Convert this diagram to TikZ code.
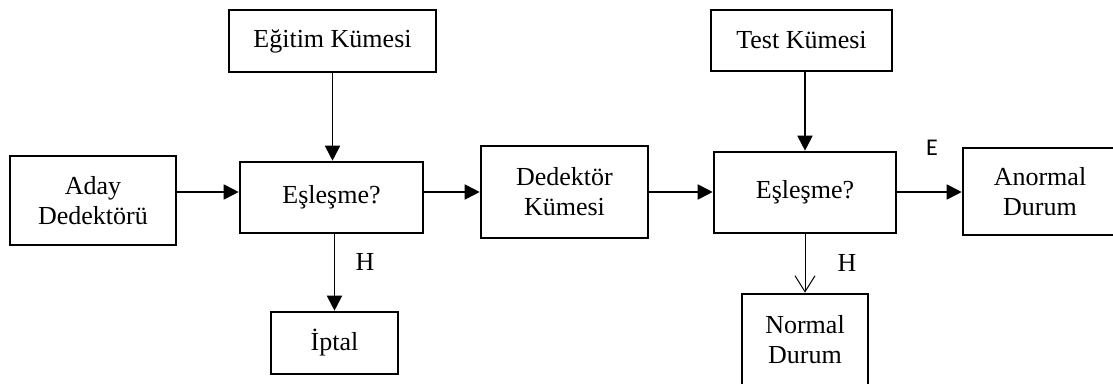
\documentclass[tikz,border=0pt]{standalone}
\usepackage{fontspec}
\setmainfont{Liberation Serif}
\newfontfamily\labelsans{Carlito}
\usetikzlibrary{arrows.meta}
\begin{document}
\begin{tikzpicture}[x=1pt,y=-1pt,
  box/.style={draw,line width=2.6pt,align=center,inner sep=0pt,
    font=\fontsize{26}{30}\selectfont},
  arr/.style={line width=1.8pt,-{Triangle[length=15pt,width=15pt]}},
  thinarr/.style={line width=1pt,-{Straight Barb[length=16pt,width=20pt,line width=1pt]}},
  lbl/.style={font=\fontsize{26}{30}\selectfont},
  elbl/.style={font=\labelsans\fontsize{24}{28}\selectfont}]
\useasboundingbox (0,0) rectangle (1113,383);
\fill[white] (0,0) rectangle (1113,383);
\clip (0,0) rectangle (1113,383);
\node[box,minimum width=207pt,minimum height=62pt] (egitim) at (332.5,41) {Eğitim Kümesi};
\node[box,minimum width=166pt,minimum height=89pt] (aday) at (93,200.5) {Aday\\Dedektörü};
\node[box,minimum width=183pt,minimum height=71pt] (es1) at (331.5,197.5) {Eşleşme?};
\node[box,minimum width=127pt,minimum height=62pt] (iptal) at (334.5,343) {İptal};
\node[box,minimum width=167pt,minimum height=92pt] (ded) at (564.5,192) {Dedektör\\Kümesi};
\node[box,minimum width=181pt,minimum height=61pt] (test) at (801.5,40.5) {Test Kümesi};
\node[box,minimum width=182pt,minimum height=81pt] (es2) at (805,192.5) {Eşleşme?};
\node[box,minimum width=154pt,minimum height=87pt] (anormal) at (1040,191.5) {Anormal\\Durum};
\node[box,minimum width=126pt,minimum height=92pt] (normal) at (805,340) {Normal\\Durum};
\coordinate (r1) at (0,192);
\draw[arr] (egitim.south) -- (egitim.south |- es1.north);
\draw[arr] (aday.east |- r1) -- (es1.west |- r1);
\draw[arr] (es1.east |- r1) -- (ded.west |- r1);
\draw[arr] (iptal.north |- es1.south) -- (iptal.north);
\draw[arr] (ded.east |- r1) -- (es2.west |- r1);
\draw[arr] (es2.north |- test.south) -- (es2.north);
\draw[arr] (es2.east |- r1) -- (anormal.west |- r1);
\draw[thinarr] (normal.north |- es2.south) -- (normal.north);
\node[lbl] (h1) at (365,262) {H};
\node[lbl] (h2) at (847,263) {H};
\node[elbl] (e1) at (932,148) {E};
\end{tikzpicture}
\end{document}
